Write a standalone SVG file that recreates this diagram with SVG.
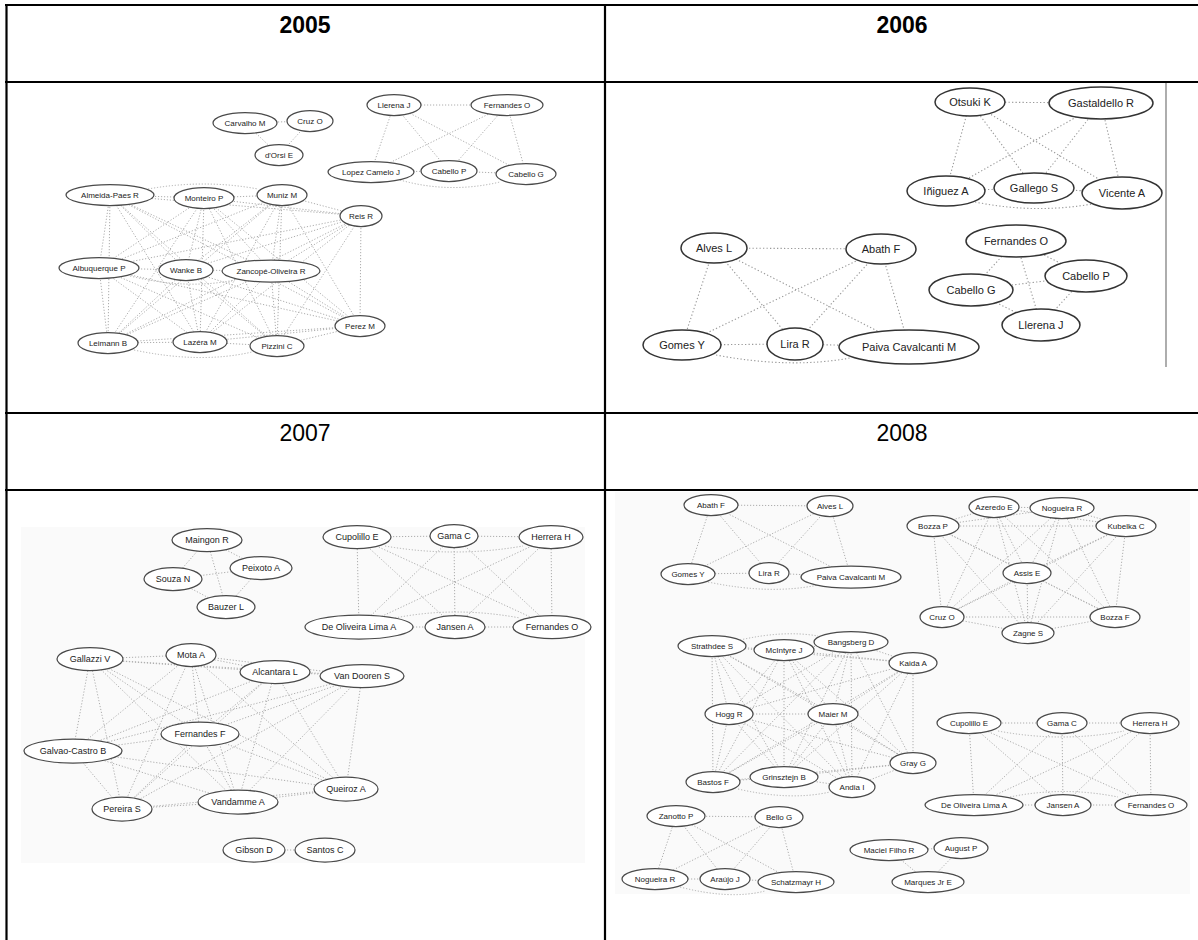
<svg xmlns="http://www.w3.org/2000/svg" width="1198" height="940" viewBox="0 0 1198 940">
<style>
  .grid line { stroke: #000; stroke-width: 2.2; }
  .hdr { font-family: "Liberation Sans", Arial, sans-serif; font-size: 23px; text-anchor: middle; fill: #000; }
  .hdr.b { font-weight: bold; }
  .e line, .e path { stroke: #aeaeae; stroke-width: 1; stroke-dasharray: 1.2 1.8; fill: none; }
  .e6 line, .e6 path { stroke: #999; stroke-width: 1.1; stroke-dasharray: 1.3 2.2; fill: none; }
  .n ellipse { fill: #fff; stroke: #4a4a4a; stroke-width: 1.25; }
  .big .n ellipse { stroke: #333; stroke-width: 1.5; }
  .n text { font-family: "Liberation Sans", Arial, sans-serif; text-anchor: middle; fill: #222; }
  .f8 text { font-size: 8px; }
  .f9 text { font-size: 9px; }
  .f11 text { font-size: 11px; }
</style>

<!-- faint backdrop of the exported network images -->
<rect x="21" y="527" width="564" height="336" fill="#fafafa"/>
<rect x="615" y="492" width="575" height="402" fill="#fafafa"/>

<!-- table -->
<g class="grid" id="table">
  <line x1="5" y1="5" x2="1198" y2="5"/>
  <line x1="6.5" y1="4" x2="6.5" y2="940"/>
  <line x1="605" y1="4" x2="605" y2="940"/>
  <line x1="5" y1="82" x2="1198" y2="82"/>
  <line x1="5" y1="413" x2="1198" y2="413"/>
  <line x1="5" y1="490" x2="1198" y2="490"/>
</g>
<text class="hdr b" x="305" y="33">2005</text>
<text class="hdr b" x="902" y="33">2006</text>
<text class="hdr" x="305" y="441">2007</text>
<text class="hdr" x="902" y="441">2008</text>

<!-- ===== 2005 ===== -->
<g id="panel-2005">
<g id="edges-2005" class="e">
  <line x1="245" y1="123" x2="310" y2="121"/>
  <line x1="245" y1="123" x2="279" y2="155"/>
  <line x1="310" y1="121" x2="279" y2="155"/>

  <line x1="394" y1="105" x2="507" y2="105"/>
  <line x1="394" y1="105" x2="371" y2="172"/>
  <line x1="394" y1="105" x2="449" y2="171"/>
  <line x1="394" y1="105" x2="526" y2="174"/>
  <line x1="507" y1="105" x2="371" y2="172"/>
  <line x1="507" y1="105" x2="449" y2="171"/>
  <line x1="507" y1="105" x2="526" y2="174"/>
  <line x1="371" y1="172" x2="449" y2="171"/>
  <line x1="449" y1="171" x2="526" y2="174"/>
  <path d="M400,180 Q449,194 500,182"/>

  <line x1="110" y1="195" x2="204" y2="198"/>
  <path d="M148,189 Q204,179 258,189"/>
  <line x1="110" y1="195" x2="361" y2="216"/>
  <line x1="110" y1="195" x2="99" y2="268"/>
  <line x1="110" y1="195" x2="186" y2="270"/>
  <line x1="110" y1="195" x2="271" y2="271"/>
  <line x1="110" y1="195" x2="360" y2="326"/>
  <line x1="110" y1="195" x2="108" y2="343"/>
  <line x1="110" y1="195" x2="200" y2="342"/>
  <line x1="110" y1="195" x2="277" y2="346"/>
  <line x1="204" y1="198" x2="282" y2="195"/>
  <line x1="204" y1="198" x2="361" y2="216"/>
  <line x1="204" y1="198" x2="99" y2="268"/>
  <line x1="204" y1="198" x2="186" y2="270"/>
  <line x1="204" y1="198" x2="271" y2="271"/>
  <line x1="204" y1="198" x2="360" y2="326"/>
  <line x1="204" y1="198" x2="108" y2="343"/>
  <line x1="204" y1="198" x2="200" y2="342"/>
  <line x1="204" y1="198" x2="277" y2="346"/>
  <line x1="282" y1="195" x2="361" y2="216"/>
  <line x1="282" y1="195" x2="99" y2="268"/>
  <line x1="282" y1="195" x2="186" y2="270"/>
  <line x1="282" y1="195" x2="271" y2="271"/>
  <line x1="282" y1="195" x2="360" y2="326"/>
  <line x1="282" y1="195" x2="108" y2="343"/>
  <line x1="282" y1="195" x2="200" y2="342"/>
  <line x1="282" y1="195" x2="277" y2="346"/>
  <line x1="361" y1="216" x2="99" y2="268"/>
  <line x1="361" y1="216" x2="186" y2="270"/>
  <line x1="361" y1="216" x2="271" y2="271"/>
  <line x1="361" y1="216" x2="360" y2="326"/>
  <line x1="361" y1="216" x2="108" y2="343"/>
  <line x1="361" y1="216" x2="200" y2="342"/>
  <line x1="361" y1="216" x2="277" y2="346"/>
  <line x1="99" y1="268" x2="186" y2="270"/>
  <path d="M130,276 Q186,290 235,280"/>
  <line x1="99" y1="268" x2="360" y2="326"/>
  <line x1="99" y1="268" x2="108" y2="343"/>
  <line x1="99" y1="268" x2="200" y2="342"/>
  <line x1="99" y1="268" x2="277" y2="346"/>
  <line x1="186" y1="270" x2="271" y2="271"/>
  <line x1="186" y1="270" x2="360" y2="326"/>
  <line x1="186" y1="270" x2="108" y2="343"/>
  <line x1="186" y1="270" x2="200" y2="342"/>
  <line x1="186" y1="270" x2="277" y2="346"/>
  <line x1="271" y1="271" x2="360" y2="326"/>
  <line x1="271" y1="271" x2="108" y2="343"/>
  <line x1="271" y1="271" x2="200" y2="342"/>
  <line x1="271" y1="271" x2="277" y2="346"/>
  <line x1="360" y1="326" x2="108" y2="343"/>
  <line x1="360" y1="326" x2="200" y2="342"/>
  <line x1="360" y1="326" x2="277" y2="346"/>
  <line x1="108" y1="343" x2="200" y2="342"/>
  <path d="M134,350 Q200,364 252,352"/>
  <line x1="200" y1="342" x2="277" y2="346"/>
</g>
<g id="nodes-2005" class="f8">
  <g id="n05-carvalho-m" class="n"><ellipse cx="245" cy="123" rx="32" ry="10.5"/><text x="245" y="125.8">Carvalho M</text></g>
  <g id="n05-cruz-o" class="n"><ellipse cx="310" cy="121" rx="23" ry="10.5"/><text x="310" y="123.8">Cruz O</text></g>
  <g id="n05-dorsi-e" class="n"><ellipse cx="279" cy="155" rx="24" ry="10.5"/><text x="279" y="157.8">d'Orsi E</text></g>
  <g id="n05-llerena-j" class="n"><ellipse cx="394" cy="105" rx="27" ry="10.5"/><text x="394" y="107.8">Llerena J</text></g>
  <g id="n05-fernandes-o" class="n"><ellipse cx="507" cy="105" rx="36" ry="10.5"/><text x="507" y="107.8">Fernandes O</text></g>
  <g id="n05-lopez-camelo-j" class="n"><ellipse cx="371" cy="172" rx="43" ry="10.5"/><text x="371" y="174.8">Lopez Camelo J</text></g>
  <g id="n05-cabello-p" class="n"><ellipse cx="449" cy="171" rx="28" ry="10.5"/><text x="449" y="173.8">Cabello P</text></g>
  <g id="n05-cabello-g" class="n"><ellipse cx="526" cy="174" rx="30" ry="10.5"/><text x="526" y="176.8">Cabello G</text></g>
  <g id="n05-almeida-paes-r" class="n"><ellipse cx="110" cy="195" rx="44" ry="10.5"/><text x="110" y="197.8">Almeida-Paes R</text></g>
  <g id="n05-monteiro-p" class="n"><ellipse cx="204" cy="198" rx="30" ry="10.5"/><text x="204" y="200.8">Monteiro P</text></g>
  <g id="n05-muniz-m" class="n"><ellipse cx="282" cy="195" rx="25" ry="10.5"/><text x="282" y="197.8">Muniz M</text></g>
  <g id="n05-reis-r" class="n"><ellipse cx="361" cy="216" rx="21" ry="10.5"/><text x="361" y="218.8">Reis R</text></g>
  <g id="n05-albuquerque-p" class="n"><ellipse cx="99" cy="268" rx="40" ry="10.5"/><text x="99" y="270.8">Albuquerque P</text></g>
  <g id="n05-wanke-b" class="n"><ellipse cx="186" cy="270" rx="27" ry="10.5"/><text x="186" y="272.8">Wanke B</text></g>
  <g id="n05-zancope-oliveira-r" class="n"><ellipse cx="271" cy="271" rx="49" ry="11"/><text x="271" y="273.8">Zancopé-Oliveira R</text></g>
  <g id="n05-perez-m" class="n"><ellipse cx="360" cy="326" rx="25" ry="10.5"/><text x="360" y="328.8">Perez M</text></g>
  <g id="n05-leimann-b" class="n"><ellipse cx="108" cy="343" rx="30" ry="10.5"/><text x="108" y="345.8">Leimann B</text></g>
  <g id="n05-lazera-m" class="n"><ellipse cx="200" cy="342" rx="27" ry="10.5"/><text x="200" y="344.8">Lazéra M</text></g>
  <g id="n05-pizzini-c" class="n"><ellipse cx="277" cy="346" rx="27" ry="10.5"/><text x="277" y="348.8">Pizzini C</text></g>
</g>
</g>

<!-- ===== 2006 ===== -->
<g id="panel-2006" class="big">
<line x1="1166" y1="83" x2="1166" y2="367" stroke="#777" stroke-width="1.2"/>
<g id="edges-2006" class="e6">
  <line x1="970" y1="102" x2="1101" y2="103"/>
  <line x1="970" y1="102" x2="946" y2="191"/>
  <line x1="970" y1="102" x2="1034" y2="188"/>
  <line x1="970" y1="102" x2="1122" y2="193"/>
  <line x1="1101" y1="103" x2="946" y2="191"/>
  <line x1="1101" y1="103" x2="1034" y2="188"/>
  <line x1="1101" y1="103" x2="1122" y2="193"/>
  <line x1="946" y1="191" x2="1034" y2="188"/>
  <line x1="1034" y1="188" x2="1122" y2="193"/>
  <path d="M975,202 Q1034,214 1092,204"/>

  <line x1="714" y1="248" x2="881" y2="249"/>
  <line x1="714" y1="248" x2="682" y2="345"/>
  <line x1="714" y1="248" x2="795" y2="344"/>
  <line x1="714" y1="248" x2="909" y2="347"/>
  <line x1="881" y1="249" x2="682" y2="345"/>
  <line x1="881" y1="249" x2="795" y2="344"/>
  <line x1="881" y1="249" x2="909" y2="347"/>
  <line x1="682" y1="345" x2="795" y2="344"/>
  <line x1="795" y1="344" x2="909" y2="347"/>
  <path d="M716,355 Q790,369 850,358"/>

  <line x1="1016" y1="241" x2="1086" y2="276"/>
  <line x1="1016" y1="241" x2="971" y2="290"/>
  <line x1="1016" y1="241" x2="1041" y2="325"/>
  <line x1="1086" y1="276" x2="971" y2="290"/>
  <line x1="1086" y1="276" x2="1041" y2="325"/>
  <line x1="971" y1="290" x2="1041" y2="325"/>
</g>
<g id="nodes-2006" class="f11">
  <g id="n06-otsuki-k" class="n"><ellipse cx="970" cy="102" rx="35" ry="14"/><text x="970" y="105.9">Otsuki K</text></g>
  <g id="n06-gastaldello-r" class="n"><ellipse cx="1101" cy="103" rx="52" ry="16"/><text x="1101" y="106.9">Gastaldello R</text></g>
  <g id="n06-iniguez-a" class="n"><ellipse cx="946" cy="191" rx="39" ry="15"/><text x="946" y="194.9">Iñiguez A</text></g>
  <g id="n06-gallego-s" class="n"><ellipse cx="1034" cy="188" rx="40" ry="15"/><text x="1034" y="191.9">Gallego S</text></g>
  <g id="n06-vicente-a" class="n"><ellipse cx="1122" cy="193" rx="40" ry="16"/><text x="1122" y="196.9">Vicente A</text></g>
  <g id="n06-alves-l" class="n"><ellipse cx="714" cy="248" rx="33" ry="15"/><text x="714" y="251.9">Alves L</text></g>
  <g id="n06-abath-f" class="n"><ellipse cx="881" cy="249" rx="35" ry="15"/><text x="881" y="252.9">Abath F</text></g>
  <g id="n06-gomes-y" class="n"><ellipse cx="682" cy="345" rx="39" ry="15"/><text x="682" y="348.9">Gomes Y</text></g>
  <g id="n06-lira-r" class="n"><ellipse cx="795" cy="344" rx="28" ry="16"/><text x="795" y="347.9">Lira R</text></g>
  <g id="n06-paiva-cavalcanti-m" class="n"><ellipse cx="909" cy="347" rx="70" ry="17"/><text x="909" y="350.9">Paiva Cavalcanti M</text></g>
  <g id="n06-fernandes-o" class="n"><ellipse cx="1016" cy="241" rx="50" ry="16"/><text x="1016" y="244.9">Fernandes O</text></g>
  <g id="n06-cabello-p" class="n"><ellipse cx="1086" cy="276" rx="41" ry="16"/><text x="1086" y="279.9">Cabello P</text></g>
  <g id="n06-cabello-g" class="n"><ellipse cx="971" cy="290" rx="42" ry="16"/><text x="971" y="293.9">Cabello G</text></g>
  <g id="n06-llerena-j" class="n"><ellipse cx="1041" cy="325" rx="39" ry="16"/><text x="1041" y="328.9">Llerena J</text></g>
</g>
</g>

<!-- ===== 2007 ===== -->
<g id="panel-2007">
<g id="edges-2007" class="e">
  <line x1="207" y1="540" x2="261" y2="568"/>
  <line x1="207" y1="540" x2="173" y2="579"/>
  <line x1="207" y1="540" x2="226" y2="607"/>
  <line x1="261" y1="568" x2="173" y2="579"/>
  <line x1="261" y1="568" x2="226" y2="607"/>
  <line x1="173" y1="579" x2="226" y2="607"/>

  <line x1="357" y1="537" x2="454" y2="536"/>
  <line x1="454" y1="536" x2="551" y2="537"/>
  <path d="M385,546 Q454,558 523,546"/>
  <line x1="357" y1="537" x2="359" y2="627"/>
  <line x1="357" y1="537" x2="455" y2="627"/>
  <line x1="357" y1="537" x2="552" y2="627"/>
  <line x1="454" y1="536" x2="359" y2="627"/>
  <line x1="454" y1="536" x2="455" y2="627"/>
  <line x1="454" y1="536" x2="552" y2="627"/>
  <line x1="551" y1="537" x2="359" y2="627"/>
  <line x1="551" y1="537" x2="455" y2="627"/>
  <line x1="551" y1="537" x2="552" y2="627"/>
  <line x1="359" y1="627" x2="455" y2="627"/>
  <line x1="455" y1="627" x2="552" y2="627"/>
  <path d="M395,618 Q455,606 520,618"/>

  <line x1="90" y1="659" x2="191" y2="655"/>
  <line x1="90" y1="659" x2="275" y2="672"/>
  <line x1="90" y1="659" x2="362" y2="676"/>
  <line x1="90" y1="659" x2="200" y2="734"/>
  <line x1="90" y1="659" x2="73" y2="751"/>
  <line x1="90" y1="659" x2="346" y2="789"/>
  <line x1="90" y1="659" x2="238" y2="802"/>
  <line x1="90" y1="659" x2="122" y2="809"/>
  <line x1="191" y1="655" x2="275" y2="672"/>
  <line x1="191" y1="655" x2="362" y2="676"/>
  <line x1="191" y1="655" x2="200" y2="734"/>
  <line x1="191" y1="655" x2="73" y2="751"/>
  <line x1="191" y1="655" x2="346" y2="789"/>
  <line x1="191" y1="655" x2="238" y2="802"/>
  <line x1="191" y1="655" x2="122" y2="809"/>
  <line x1="275" y1="672" x2="362" y2="676"/>
  <line x1="275" y1="672" x2="200" y2="734"/>
  <line x1="275" y1="672" x2="73" y2="751"/>
  <line x1="275" y1="672" x2="346" y2="789"/>
  <line x1="275" y1="672" x2="238" y2="802"/>
  <line x1="275" y1="672" x2="122" y2="809"/>
  <line x1="362" y1="676" x2="200" y2="734"/>
  <line x1="362" y1="676" x2="73" y2="751"/>
  <line x1="362" y1="676" x2="346" y2="789"/>
  <line x1="362" y1="676" x2="238" y2="802"/>
  <line x1="362" y1="676" x2="122" y2="809"/>
  <line x1="200" y1="734" x2="73" y2="751"/>
  <line x1="200" y1="734" x2="346" y2="789"/>
  <line x1="200" y1="734" x2="238" y2="802"/>
  <line x1="200" y1="734" x2="122" y2="809"/>
  <line x1="73" y1="751" x2="346" y2="789"/>
  <line x1="73" y1="751" x2="238" y2="802"/>
  <line x1="73" y1="751" x2="122" y2="809"/>
  <line x1="346" y1="789" x2="238" y2="802"/>
  <line x1="346" y1="789" x2="122" y2="809"/>
  <line x1="238" y1="802" x2="122" y2="809"/>

  <line x1="254" y1="850" x2="325" y2="850"/>
</g>
<g id="nodes-2007" class="f9">
  <g id="n07-maingon-r" class="n"><ellipse cx="207" cy="540" rx="35" ry="11.5"/><text x="207" y="543.2">Maingon R</text></g>
  <g id="n07-peixoto-a" class="n"><ellipse cx="261" cy="568" rx="31" ry="11.5"/><text x="261" y="571.2">Peixoto A</text></g>
  <g id="n07-souza-n" class="n"><ellipse cx="173" cy="579" rx="29" ry="11.5"/><text x="173" y="582.2">Souza N</text></g>
  <g id="n07-bauzer-l" class="n"><ellipse cx="226" cy="607" rx="29" ry="11.5"/><text x="226" y="610.2">Bauzer L</text></g>
  <g id="n07-cupolillo-e" class="n"><ellipse cx="357" cy="537" rx="34" ry="11.5"/><text x="357" y="540.2">Cupolillo E</text></g>
  <g id="n07-gama-c" class="n"><ellipse cx="454" cy="536" rx="24" ry="11.5"/><text x="454" y="539.2">Gama C</text></g>
  <g id="n07-herrera-h" class="n"><ellipse cx="551" cy="537" rx="32" ry="11.5"/><text x="551" y="540.2">Herrera H</text></g>
  <g id="n07-de-oliveira-lima-a" class="n"><ellipse cx="359" cy="627" rx="54" ry="12"/><text x="359" y="630.2">De Oliveira Lima A</text></g>
  <g id="n07-jansen-a" class="n"><ellipse cx="455" cy="627" rx="30" ry="11.5"/><text x="455" y="630.2">Jansen A</text></g>
  <g id="n07-fernandes-o" class="n"><ellipse cx="552" cy="627" rx="39" ry="11.5"/><text x="552" y="630.2">Fernandes O</text></g>
  <g id="n07-gallazzi-v" class="n"><ellipse cx="90" cy="659" rx="33" ry="11.5"/><text x="90" y="662.2">Gallazzi V</text></g>
  <g id="n07-mota-a" class="n"><ellipse cx="191" cy="655" rx="25" ry="11.5"/><text x="191" y="658.2">Mota A</text></g>
  <g id="n07-alcantara-l" class="n"><ellipse cx="275" cy="672" rx="35" ry="11.5"/><text x="275" y="675.2">Alcantara L</text></g>
  <g id="n07-van-dooren-s" class="n"><ellipse cx="362" cy="676" rx="42" ry="11.5"/><text x="362" y="679.2">Van Dooren S</text></g>
  <g id="n07-fernandes-f" class="n"><ellipse cx="200" cy="734" rx="39" ry="12"/><text x="200" y="737.2">Fernandes F</text></g>
  <g id="n07-galvao-castro-b" class="n"><ellipse cx="73" cy="751" rx="49" ry="12"/><text x="73" y="754.2">Galvao-Castro B</text></g>
  <g id="n07-queiroz-a" class="n"><ellipse cx="346" cy="789" rx="32" ry="12"/><text x="346" y="792.2">Queiroz A</text></g>
  <g id="n07-vandamme-a" class="n"><ellipse cx="238" cy="802" rx="40" ry="12"/><text x="238" y="805.2">Vandamme A</text></g>
  <g id="n07-pereira-s" class="n"><ellipse cx="122" cy="809" rx="30" ry="12"/><text x="122" y="812.2">Pereira S</text></g>
  <g id="n07-gibson-d" class="n"><ellipse cx="254" cy="850" rx="31" ry="12"/><text x="254" y="853.2">Gibson D</text></g>
  <g id="n07-santos-c" class="n"><ellipse cx="325" cy="850" rx="30" ry="12"/><text x="325" y="853.2">Santos C</text></g>
</g>
</g>

<!-- ===== 2008 ===== -->
<g id="panel-2008">
<g id="edges-2008" class="e">
  <line x1="711" y1="505" x2="830" y2="506"/>
  <line x1="711" y1="505" x2="688" y2="574"/>
  <line x1="711" y1="505" x2="769" y2="573"/>
  <line x1="711" y1="505" x2="851" y2="577"/>
  <line x1="830" y1="506" x2="688" y2="574"/>
  <line x1="830" y1="506" x2="769" y2="573"/>
  <line x1="830" y1="506" x2="851" y2="577"/>
  <line x1="688" y1="574" x2="769" y2="573"/>
  <line x1="769" y1="573" x2="851" y2="577"/>
  <path d="M708,582 Q770,595 818,585"/>

  <line x1="994" y1="507" x2="1062" y2="508"/>
  <line x1="994" y1="507" x2="933" y2="526"/>
  <line x1="994" y1="507" x2="1126" y2="526"/>
  <line x1="994" y1="507" x2="1027" y2="573"/>
  <line x1="994" y1="507" x2="942" y2="617"/>
  <line x1="994" y1="507" x2="1115" y2="617"/>
  <line x1="994" y1="507" x2="1028" y2="633"/>
  <line x1="1062" y1="508" x2="933" y2="526"/>
  <line x1="1062" y1="508" x2="1126" y2="526"/>
  <line x1="1062" y1="508" x2="1027" y2="573"/>
  <line x1="1062" y1="508" x2="942" y2="617"/>
  <line x1="1062" y1="508" x2="1115" y2="617"/>
  <line x1="1062" y1="508" x2="1028" y2="633"/>
  <line x1="933" y1="526" x2="1126" y2="526"/>
  <line x1="933" y1="526" x2="1027" y2="573"/>
  <line x1="933" y1="526" x2="942" y2="617"/>
  <line x1="933" y1="526" x2="1115" y2="617"/>
  <line x1="933" y1="526" x2="1028" y2="633"/>
  <line x1="1126" y1="526" x2="1027" y2="573"/>
  <line x1="1126" y1="526" x2="942" y2="617"/>
  <line x1="1126" y1="526" x2="1115" y2="617"/>
  <line x1="1126" y1="526" x2="1028" y2="633"/>
  <line x1="1027" y1="573" x2="942" y2="617"/>
  <line x1="1027" y1="573" x2="1115" y2="617"/>
  <line x1="1027" y1="573" x2="1028" y2="633"/>
  <line x1="942" y1="617" x2="1115" y2="617"/>
  <line x1="942" y1="617" x2="1028" y2="633"/>
  <line x1="1115" y1="617" x2="1028" y2="633"/>

  <line x1="712" y1="646" x2="784" y2="650"/>
  <path d="M740,640 Q784,630 818,636"/>
  <line x1="712" y1="646" x2="913" y2="663"/>
  <line x1="712" y1="646" x2="729" y2="714"/>
  <line x1="712" y1="646" x2="833" y2="714"/>
  <line x1="712" y1="646" x2="913" y2="763"/>
  <line x1="712" y1="646" x2="713" y2="782"/>
  <line x1="712" y1="646" x2="784" y2="777"/>
  <line x1="712" y1="646" x2="852" y2="787"/>
  <line x1="784" y1="650" x2="851" y2="642"/>
  <line x1="784" y1="650" x2="913" y2="663"/>
  <line x1="784" y1="650" x2="729" y2="714"/>
  <line x1="784" y1="650" x2="833" y2="714"/>
  <line x1="784" y1="650" x2="913" y2="763"/>
  <line x1="784" y1="650" x2="713" y2="782"/>
  <line x1="784" y1="650" x2="784" y2="777"/>
  <line x1="784" y1="650" x2="852" y2="787"/>
  <line x1="851" y1="642" x2="913" y2="663"/>
  <line x1="851" y1="642" x2="729" y2="714"/>
  <line x1="851" y1="642" x2="833" y2="714"/>
  <line x1="851" y1="642" x2="913" y2="763"/>
  <line x1="851" y1="642" x2="713" y2="782"/>
  <line x1="851" y1="642" x2="784" y2="777"/>
  <line x1="851" y1="642" x2="852" y2="787"/>
  <line x1="913" y1="663" x2="729" y2="714"/>
  <line x1="913" y1="663" x2="833" y2="714"/>
  <line x1="913" y1="663" x2="913" y2="763"/>
  <line x1="913" y1="663" x2="713" y2="782"/>
  <line x1="913" y1="663" x2="784" y2="777"/>
  <line x1="913" y1="663" x2="852" y2="787"/>
  <line x1="729" y1="714" x2="833" y2="714"/>
  <line x1="729" y1="714" x2="913" y2="763"/>
  <line x1="729" y1="714" x2="713" y2="782"/>
  <line x1="729" y1="714" x2="784" y2="777"/>
  <line x1="729" y1="714" x2="852" y2="787"/>
  <line x1="833" y1="714" x2="913" y2="763"/>
  <line x1="833" y1="714" x2="713" y2="782"/>
  <line x1="833" y1="714" x2="784" y2="777"/>
  <line x1="833" y1="714" x2="852" y2="787"/>
  <line x1="913" y1="763" x2="713" y2="782"/>
  <line x1="913" y1="763" x2="784" y2="777"/>
  <line x1="913" y1="763" x2="852" y2="787"/>
  <line x1="713" y1="782" x2="784" y2="777"/>
  <path d="M738,789 Q790,801 830,792"/>
  <line x1="784" y1="777" x2="852" y2="787"/>

  <line x1="969" y1="723" x2="1062" y2="723"/>
  <line x1="1062" y1="723" x2="1150" y2="723"/>
  <path d="M998,731 Q1062,743 1124,731"/>
  <line x1="969" y1="723" x2="974" y2="805"/>
  <line x1="969" y1="723" x2="1063" y2="805"/>
  <line x1="969" y1="723" x2="1151" y2="805"/>
  <line x1="1062" y1="723" x2="974" y2="805"/>
  <line x1="1062" y1="723" x2="1063" y2="805"/>
  <line x1="1062" y1="723" x2="1151" y2="805"/>
  <line x1="1150" y1="723" x2="974" y2="805"/>
  <line x1="1150" y1="723" x2="1063" y2="805"/>
  <line x1="1150" y1="723" x2="1151" y2="805"/>
  <line x1="974" y1="805" x2="1063" y2="805"/>
  <line x1="1063" y1="805" x2="1151" y2="805"/>
  <path d="M1010,797 Q1063,786 1118,797"/>

  <line x1="676" y1="816" x2="779" y2="817"/>
  <line x1="676" y1="816" x2="655" y2="879"/>
  <line x1="676" y1="816" x2="725" y2="879"/>
  <line x1="676" y1="816" x2="796" y2="882"/>
  <line x1="779" y1="817" x2="655" y2="879"/>
  <line x1="779" y1="817" x2="725" y2="879"/>
  <line x1="779" y1="817" x2="796" y2="882"/>
  <line x1="655" y1="879" x2="725" y2="879"/>
  <line x1="725" y1="879" x2="796" y2="882"/>
  <path d="M680,887 Q730,900 765,891"/>

  <line x1="889" y1="850" x2="961" y2="848"/>
  <line x1="889" y1="850" x2="928" y2="882"/>
  <line x1="961" y1="848" x2="928" y2="882"/>
</g>
<g id="nodes-2008" class="f8">
  <g id="n08-abath-f" class="n"><ellipse cx="711" cy="505" rx="27" ry="10.5"/><text x="711" y="507.8">Abath F</text></g>
  <g id="n08-alves-l" class="n"><ellipse cx="830" cy="506" rx="23" ry="10.5"/><text x="830" y="508.8">Alves L</text></g>
  <g id="n08-gomes-y" class="n"><ellipse cx="688" cy="574" rx="27" ry="10.5"/><text x="688" y="576.8">Gomes Y</text></g>
  <g id="n08-lira-r" class="n"><ellipse cx="769" cy="573" rx="20" ry="10.5"/><text x="769" y="575.8">Lira R</text></g>
  <g id="n08-paiva-cavalcanti-m" class="n"><ellipse cx="851" cy="577" rx="50" ry="11"/><text x="851" y="579.8">Paiva Cavalcanti M</text></g>
  <g id="n08-azeredo-e" class="n"><ellipse cx="994" cy="507" rx="25" ry="10.5"/><text x="994" y="509.8">Azeredo E</text></g>
  <g id="n08-nogueira-r" class="n"><ellipse cx="1062" cy="508" rx="32" ry="10.5"/><text x="1062" y="510.8">Nogueira R</text></g>
  <g id="n08-bozza-p" class="n"><ellipse cx="933" cy="526" rx="26" ry="10.5"/><text x="933" y="528.8">Bozza P</text></g>
  <g id="n08-kubelka-c" class="n"><ellipse cx="1126" cy="526" rx="30" ry="10.5"/><text x="1126" y="528.8">Kubelka C</text></g>
  <g id="n08-assis-e" class="n"><ellipse cx="1027" cy="573" rx="24" ry="10.5"/><text x="1027" y="575.8">Assis E</text></g>
  <g id="n08-cruz-o" class="n"><ellipse cx="942" cy="617" rx="22" ry="10.5"/><text x="942" y="619.8">Cruz O</text></g>
  <g id="n08-bozza-f" class="n"><ellipse cx="1115" cy="617" rx="25" ry="10.5"/><text x="1115" y="619.8">Bozza F</text></g>
  <g id="n08-zagne-s" class="n"><ellipse cx="1028" cy="633" rx="26" ry="10.5"/><text x="1028" y="635.8">Zagne S</text></g>
  <g id="n08-strathdee-s" class="n"><ellipse cx="712" cy="646" rx="34" ry="10.5"/><text x="712" y="648.8">Strathdee S</text></g>
  <g id="n08-mcintyre-j" class="n"><ellipse cx="784" cy="650" rx="30" ry="10.5"/><text x="784" y="652.8">McIntyre J</text></g>
  <g id="n08-bangsberg-d" class="n"><ellipse cx="851" cy="642" rx="37" ry="10.5"/><text x="851" y="644.8">Bangsberg D</text></g>
  <g id="n08-kaida-a" class="n"><ellipse cx="913" cy="663" rx="24" ry="10.5"/><text x="913" y="665.8">Kaida A</text></g>
  <g id="n08-hogg-r" class="n"><ellipse cx="729" cy="714" rx="24" ry="10.5"/><text x="729" y="716.8">Hogg R</text></g>
  <g id="n08-maier-m" class="n"><ellipse cx="833" cy="714" rx="25" ry="10.5"/><text x="833" y="716.8">Maier M</text></g>
  <g id="n08-gray-g" class="n"><ellipse cx="913" cy="763" rx="23" ry="10.5"/><text x="913" y="765.8">Gray G</text></g>
  <g id="n08-bastos-f" class="n"><ellipse cx="713" cy="782" rx="27" ry="10.5"/><text x="713" y="784.8">Bastos F</text></g>
  <g id="n08-grinsztejn-b" class="n"><ellipse cx="784" cy="777" rx="34" ry="10.5"/><text x="784" y="779.8">Grinsztejn B</text></g>
  <g id="n08-andia-i" class="n"><ellipse cx="852" cy="787" rx="23" ry="10.5"/><text x="852" y="789.8">Andia I</text></g>
  <g id="n08-cupolillo-e" class="n"><ellipse cx="969" cy="723" rx="32" ry="10.5"/><text x="969" y="725.8">Cupolillo E</text></g>
  <g id="n08-gama-c" class="n"><ellipse cx="1062" cy="723" rx="25" ry="10.5"/><text x="1062" y="725.8">Gama C</text></g>
  <g id="n08-herrera-h" class="n"><ellipse cx="1150" cy="723" rx="29" ry="10.5"/><text x="1150" y="725.8">Herrera H</text></g>
  <g id="n08-de-oliveira-lima-a" class="n"><ellipse cx="974" cy="805" rx="49" ry="10.5"/><text x="974" y="807.8">De Oliveira Lima A</text></g>
  <g id="n08-jansen-a" class="n"><ellipse cx="1063" cy="805" rx="28" ry="10.5"/><text x="1063" y="807.8">Jansen A</text></g>
  <g id="n08-fernandes-o" class="n"><ellipse cx="1151" cy="805" rx="36" ry="10.5"/><text x="1151" y="807.8">Fernandes O</text></g>
  <g id="n08-zanotto-p" class="n"><ellipse cx="676" cy="816" rx="29" ry="10.5"/><text x="676" y="818.8">Zanotto P</text></g>
  <g id="n08-bello-g" class="n"><ellipse cx="779" cy="817" rx="24" ry="10.5"/><text x="779" y="819.8">Bello G</text></g>
  <g id="n08-nogueira-r2" class="n"><ellipse cx="655" cy="879" rx="33" ry="10.5"/><text x="655" y="881.8">Nogueira R</text></g>
  <g id="n08-araujo-j" class="n"><ellipse cx="725" cy="879" rx="25" ry="10.5"/><text x="725" y="881.8">Araújo J</text></g>
  <g id="n08-schatzmayr-h" class="n"><ellipse cx="796" cy="882" rx="38" ry="10.5"/><text x="796" y="884.8">Schatzmayr H</text></g>
  <g id="n08-maciel-filho-r" class="n"><ellipse cx="889" cy="850" rx="39" ry="10.5"/><text x="889" y="852.8">Maciel Filho R</text></g>
  <g id="n08-august-p" class="n"><ellipse cx="961" cy="848" rx="27" ry="10.5"/><text x="961" y="850.8">August P</text></g>
  <g id="n08-marques-jr-e" class="n"><ellipse cx="928" cy="882" rx="36" ry="10.5"/><text x="928" y="884.8">Marques Jr E</text></g>
</g>
</g>
</svg>
